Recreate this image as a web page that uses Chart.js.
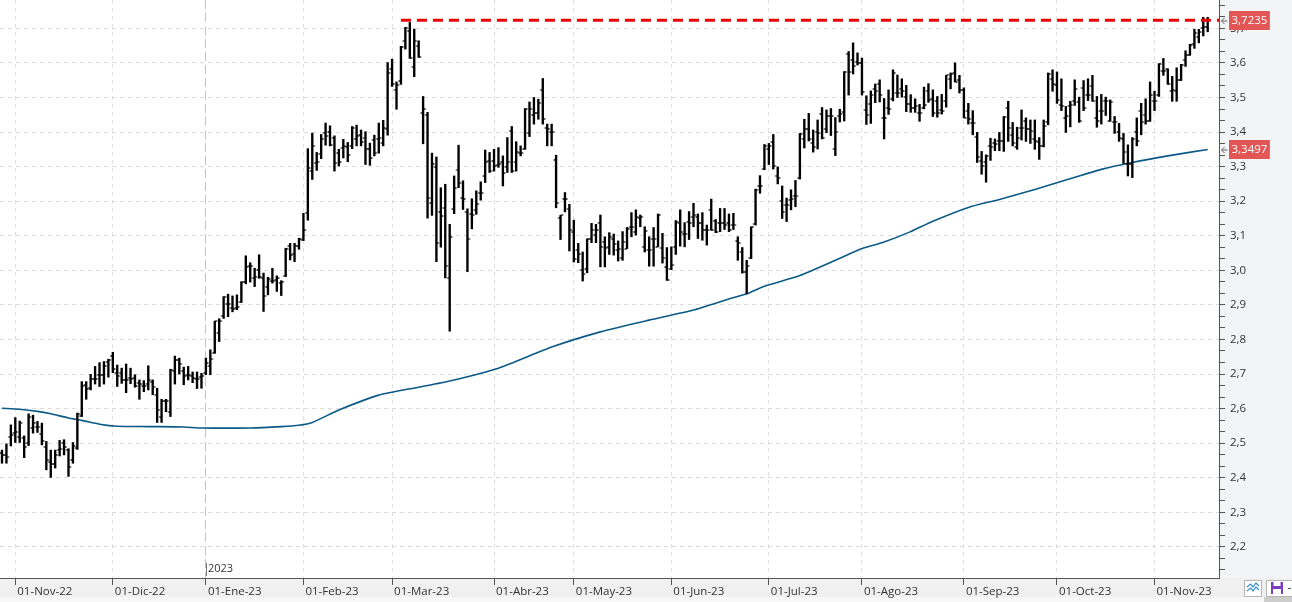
<!DOCTYPE html>
<html>
<head>
<meta charset="utf-8">
<script src="https://cdn.jsdelivr.net/npm/chart.js@4.4.0/dist/chart.umd.min.js"></script>
<style>
  html, body { margin: 0; padding: 0; background: #fff; }
  #wrap { width: 1292px; height: 602px; position: relative; }
</style>
</head>
<body>
<div id="wrap"><canvas id="chart"></canvas></div>
<script>
// Daily bars, index 0 = 27-Oct-22, index 3 = 01-Nov-22 ... index 272 = 17-Nov-23
const barOpen = [
  2.471, 2.466, 2.519, 2.529, 2.517, 2.514, 2.500, 2.545, 2.548, 2.527,
  2.490, 2.447, 2.440, 2.480, 2.500, 2.480, 2.452, 2.485, 2.579, 2.667,
  2.659, 2.686, 2.698, 2.698, 2.736, 2.751, 2.702, 2.702, 2.683, 2.688,
  2.688, 2.675, 2.666, 2.672, 2.678, 2.640, 2.575, 2.623, 2.591, 2.710,
  2.741, 2.710, 2.698, 2.693, 2.685, 2.690, 2.702, 2.722, 2.762, 2.818,
  2.868, 2.903, 2.892, 2.890, 2.907, 2.967, 3.013, 2.977, 3.001, 2.977,
  2.953, 2.970, 2.972, 2.963, 2.984, 3.069, 3.047, 3.071, 3.088, 3.167,
  3.286, 3.310, 3.336, 3.396, 3.399, 3.384, 3.339, 3.355, 3.358, 3.360,
  3.379, 3.391, 3.384, 3.350, 3.377, 3.381, 3.368, 3.410, 3.582, 3.521,
  3.548, 3.662, 3.691, 3.587, 3.650, 3.454, 3.450, 3.194, 3.300, 3.170,
  3.181, 2.978, 3.178, 3.290, 3.210, 3.169, 3.162, 3.174, 3.225, 3.273,
  3.316, 3.316, 3.305, 3.312, 3.300, 3.402, 3.314, 3.339, 3.352, 3.397,
  3.450, 3.455, 3.521, 3.413, 3.400, 3.320, 3.150, 3.207, 3.176, 3.111,
  3.060, 3.000, 3.003, 3.090, 3.101, 3.138, 3.082, 3.067, 3.092, 3.060,
  3.037, 3.063, 3.126, 3.112, 3.150, 3.068, 3.060, 3.092, 3.068, 3.066,
  3.010, 3.005, 3.068, 3.136, 3.105, 3.141, 3.155, 3.155, 3.138, 3.118,
  3.175, 3.143, 3.138, 3.138, 3.136, 3.131, 3.085, 3.053, 2.995, 3.037,
  3.134, 3.243, 3.293, 3.350, 3.370, 3.272, 3.200, 3.190, 3.204, 3.216,
  3.267, 3.380, 3.410, 3.369, 3.400, 3.451, 3.410, 3.445, 3.350, 3.445,
  3.458, 3.626, 3.607, 3.602, 3.600, 3.464, 3.480, 3.524, 3.539, 3.440,
  3.470, 3.495, 3.514, 3.525, 3.500, 3.480, 3.470, 3.454, 3.470, 3.518,
  3.496, 3.489, 3.464, 3.489, 3.554, 3.571, 3.551, 3.522, 3.460, 3.425,
  3.386, 3.316, 3.312, 3.360, 3.367, 3.375, 3.373, 3.470, 3.392, 3.357,
  3.412, 3.433, 3.409, 3.380, 3.370, 3.360, 3.428, 3.554, 3.535, 3.477,
  3.440, 3.474, 3.489, 3.486, 3.528, 3.506, 3.532, 3.440, 3.460, 3.489,
  3.431, 3.428, 3.399, 3.380, 3.307, 3.309, 3.399, 3.462, 3.450, 3.431,
  3.489, 3.506, 3.578, 3.581, 3.520, 3.520, 3.551, 3.608, 3.622, 3.654,
  3.674, 3.700, 3.705
];
const barHigh = [
  2.480, 2.498, 2.553, 2.574, 2.564, 2.521, 2.585, 2.581, 2.563, 2.558,
  2.505, 2.480, 2.480, 2.508, 2.510, 2.484, 2.502, 2.587, 2.678, 2.678,
  2.699, 2.722, 2.733, 2.736, 2.743, 2.763, 2.726, 2.717, 2.729, 2.717,
  2.698, 2.683, 2.681, 2.724, 2.683, 2.659, 2.627, 2.627, 2.714, 2.752,
  2.746, 2.720, 2.722, 2.706, 2.706, 2.702, 2.746, 2.770, 2.853, 2.860,
  2.924, 2.931, 2.926, 2.929, 2.967, 3.042, 3.022, 3.006, 3.045, 2.992,
  2.980, 3.006, 2.984, 2.970, 3.064, 3.078, 3.078, 3.093, 3.165, 3.352,
  3.397, 3.341, 3.393, 3.426, 3.418, 3.389, 3.350, 3.379, 3.370, 3.416,
  3.420, 3.406, 3.401, 3.368, 3.391, 3.426, 3.434, 3.601, 3.611, 3.545,
  3.648, 3.703, 3.717, 3.698, 3.664, 3.503, 3.457, 3.339, 3.328, 3.239,
  3.249, 3.133, 3.273, 3.362, 3.259, 3.178, 3.207, 3.230, 3.256, 3.348,
  3.341, 3.350, 3.355, 3.331, 3.384, 3.416, 3.372, 3.360, 3.468, 3.487,
  3.500, 3.495, 3.555, 3.423, 3.423, 3.333, 3.159, 3.225, 3.191, 3.145,
  3.078, 3.053, 3.091, 3.136, 3.133, 3.160, 3.097, 3.109, 3.105, 3.085,
  3.112, 3.124, 3.167, 3.175, 3.160, 3.126, 3.097, 3.124, 3.163, 3.107,
  3.066, 3.068, 3.144, 3.175, 3.138, 3.170, 3.194, 3.163, 3.167, 3.131,
  3.206, 3.147, 3.179, 3.179, 3.163, 3.165, 3.097, 3.066, 3.029, 3.126,
  3.235, 3.274, 3.364, 3.367, 3.393, 3.299, 3.244, 3.209, 3.233, 3.260,
  3.396, 3.437, 3.454, 3.406, 3.435, 3.471, 3.464, 3.468, 3.442, 3.466,
  3.575, 3.633, 3.658, 3.629, 3.614, 3.505, 3.519, 3.539, 3.551, 3.497,
  3.522, 3.580, 3.565, 3.554, 3.535, 3.508, 3.496, 3.480, 3.530, 3.540,
  3.522, 3.503, 3.509, 3.564, 3.571, 3.600, 3.564, 3.528, 3.483, 3.462,
  3.399, 3.344, 3.334, 3.382, 3.380, 3.399, 3.445, 3.489, 3.428, 3.414,
  3.464, 3.441, 3.435, 3.435, 3.384, 3.435, 3.571, 3.580, 3.574, 3.554,
  3.474, 3.489, 3.551, 3.501, 3.549, 3.554, 3.564, 3.503, 3.509, 3.501,
  3.493, 3.445, 3.425, 3.396, 3.363, 3.384, 3.441, 3.483, 3.496, 3.545,
  3.518, 3.598, 3.613, 3.583, 3.561, 3.586, 3.596, 3.635, 3.654, 3.697,
  3.697, 3.732, 3.732
];
const barLow = [
  2.442, 2.442, 2.492, 2.502, 2.502, 2.458, 2.493, 2.529, 2.531, 2.495,
  2.423, 2.401, 2.428, 2.463, 2.466, 2.404, 2.442, 2.482, 2.577, 2.627,
  2.654, 2.671, 2.664, 2.671, 2.691, 2.704, 2.664, 2.673, 2.646, 2.672,
  2.662, 2.627, 2.649, 2.654, 2.640, 2.560, 2.560, 2.591, 2.577, 2.671,
  2.700, 2.669, 2.683, 2.675, 2.658, 2.659, 2.698, 2.698, 2.760, 2.794,
  2.861, 2.866, 2.880, 2.886, 2.907, 2.961, 2.966, 2.953, 2.977, 2.881,
  2.929, 2.963, 2.939, 2.927, 2.982, 3.030, 3.025, 3.061, 3.086, 3.145,
  3.263, 3.289, 3.323, 3.362, 3.360, 3.287, 3.302, 3.325, 3.314, 3.352,
  3.360, 3.360, 3.306, 3.304, 3.331, 3.339, 3.360, 3.391, 3.532, 3.466,
  3.538, 3.640, 3.613, 3.560, 3.616, 3.366, 3.151, 3.159, 3.025, 3.067,
  2.978, 2.824, 3.164, 3.239, 3.176, 2.996, 3.120, 3.162, 3.203, 3.254,
  3.283, 3.287, 3.298, 3.244, 3.283, 3.283, 3.287, 3.331, 3.350, 3.387,
  3.423, 3.437, 3.423, 3.360, 3.360, 3.181, 3.089, 3.169, 3.056, 3.024,
  3.022, 2.969, 2.993, 3.080, 3.080, 3.010, 3.010, 3.046, 3.044, 3.027,
  3.029, 3.063, 3.097, 3.102, 3.126, 3.053, 3.012, 3.012, 3.068, 3.021,
  2.971, 3.002, 3.046, 3.070, 3.068, 3.089, 3.126, 3.092, 3.087, 3.073,
  3.116, 3.109, 3.112, 3.118, 3.112, 3.118, 3.029, 2.992, 2.932, 3.034,
  3.131, 3.223, 3.291, 3.306, 3.293, 3.250, 3.150, 3.141, 3.175, 3.184,
  3.264, 3.354, 3.374, 3.342, 3.351, 3.380, 3.398, 3.390, 3.332, 3.429,
  3.432, 3.507, 3.568, 3.594, 3.507, 3.422, 3.425, 3.485, 3.487, 3.380,
  3.451, 3.490, 3.500, 3.501, 3.459, 3.457, 3.457, 3.431, 3.467, 3.486,
  3.445, 3.443, 3.452, 3.472, 3.525, 3.545, 3.513, 3.441, 3.423, 3.392,
  3.312, 3.278, 3.255, 3.318, 3.346, 3.346, 3.344, 3.373, 3.360, 3.350,
  3.377, 3.373, 3.367, 3.350, 3.321, 3.357, 3.421, 3.518, 3.483, 3.462,
  3.399, 3.415, 3.477, 3.428, 3.462, 3.491, 3.489, 3.414, 3.423, 3.448,
  3.431, 3.396, 3.373, 3.309, 3.273, 3.268, 3.360, 3.392, 3.423, 3.431,
  3.462, 3.503, 3.564, 3.538, 3.489, 3.489, 3.549, 3.590, 3.622, 3.642,
  3.658, 3.678, 3.690
];
const barClose = [
  2.466, 2.461, 2.524, 2.531, 2.558, 2.488, 2.577, 2.558, 2.548, 2.507,
  2.452, 2.440, 2.466, 2.482, 2.488, 2.432, 2.492, 2.585, 2.664, 2.656,
  2.685, 2.686, 2.698, 2.722, 2.741, 2.714, 2.695, 2.683, 2.683, 2.685,
  2.664, 2.672, 2.666, 2.683, 2.662, 2.596, 2.623, 2.623, 2.712, 2.741,
  2.729, 2.695, 2.698, 2.688, 2.685, 2.693, 2.733, 2.743, 2.852, 2.852,
  2.922, 2.903, 2.887, 2.895, 2.965, 3.009, 3.013, 2.980, 2.980, 2.926,
  2.974, 2.969, 2.977, 2.967, 3.062, 3.043, 3.069, 3.090, 3.117, 3.297,
  3.360, 3.314, 3.379, 3.388, 3.362, 3.310, 3.312, 3.360, 3.333, 3.412,
  3.389, 3.370, 3.350, 3.326, 3.339, 3.384, 3.413, 3.572, 3.539, 3.536,
  3.645, 3.700, 3.613, 3.664, 3.616, 3.466, 3.210, 3.307, 3.080, 3.157,
  3.012, 3.097, 3.239, 3.252, 3.205, 3.091, 3.159, 3.191, 3.225, 3.312,
  3.287, 3.302, 3.307, 3.281, 3.312, 3.287, 3.341, 3.339, 3.466, 3.466,
  3.455, 3.484, 3.437, 3.410, 3.399, 3.196, 3.159, 3.207, 3.117, 3.034,
  3.048, 2.988, 3.090, 3.116, 3.116, 3.068, 3.066, 3.097, 3.075, 3.063,
  3.082, 3.119, 3.126, 3.155, 3.153, 3.115, 3.060, 3.090, 3.160, 3.037,
  2.973, 3.014, 3.141, 3.112, 3.105, 3.136, 3.160, 3.136, 3.118, 3.118,
  3.118, 3.112, 3.138, 3.131, 3.118, 3.131, 3.080, 2.995, 3.012, 3.124,
  3.233, 3.245, 3.361, 3.361, 3.303, 3.267, 3.170, 3.189, 3.206, 3.215,
  3.393, 3.410, 3.380, 3.357, 3.398, 3.383, 3.445, 3.445, 3.400, 3.451,
  3.573, 3.573, 3.592, 3.599, 3.516, 3.448, 3.507, 3.519, 3.507, 3.441,
  3.468, 3.571, 3.514, 3.518, 3.480, 3.470, 3.474, 3.454, 3.477, 3.493,
  3.454, 3.454, 3.460, 3.564, 3.569, 3.545, 3.522, 3.441, 3.438, 3.425,
  3.328, 3.302, 3.331, 3.357, 3.365, 3.375, 3.443, 3.413, 3.367, 3.382,
  3.412, 3.409, 3.404, 3.375, 3.360, 3.418, 3.569, 3.538, 3.493, 3.474,
  3.445, 3.477, 3.525, 3.433, 3.470, 3.506, 3.491, 3.433, 3.460, 3.489,
  3.486, 3.428, 3.382, 3.341, 3.307, 3.380, 3.375, 3.428, 3.433, 3.506,
  3.489, 3.596, 3.578, 3.540, 3.522, 3.551, 3.593, 3.622, 3.651, 3.687,
  3.690, 3.703, 3.7235
];

// moving average at these bar indices
const maIndex = [0, 4, 8, 11, 15, 18, 22, 26, 33, 41, 45, 56, 63, 67, 70, 76, 85, 94, 101, 112,
  124, 135, 146, 156, 164, 168, 172, 180, 188, 194, 199, 205, 210, 218, 225, 233, 240, 248, 255, 263, 272];
const maValue = [2.601, 2.598, 2.592, 2.585, 2.573, 2.566, 2.555, 2.549, 2.548, 2.547, 2.544, 2.544, 2.548, 2.552, 2.560, 2.596, 2.639, 2.662, 2.680, 2.717,
  2.778, 2.822, 2.856, 2.885, 2.917, 2.932, 2.954, 2.985, 3.029, 3.063, 3.082, 3.112, 3.142, 3.182, 3.205, 3.234, 3.261, 3.292, 3.312, 3.331, 3.3497];

// x axis month ticks (bar index of first session of each month)
const monthIndex = [3, 25, 46, 68, 88, 111, 129, 151, 173, 194, 217, 238, 260];
const monthLabels = ['01-Nov-22', '01-Dic-22', '01-Ene-23', '01-Feb-23', '01-Mar-23', '01-Abr-23', '01-May-23',
  '01-Jun-23', '01-Jul-23', '01-Ago-23', '01-Sep-23', '01-Oct-23', '01-Nov-23'];
const yearIndex = 46;
const yearLabel = '2023';

// resistance line from the March high
const resistStart = 90;
const resistLevel = 3.7235;

const xMin = -0.45, xMax = 274.55;
const yMin = 2.11, yMax = 3.782;

const fontFamily = '"Open Sans", "Noto Sans", sans-serif';

function tickImage(side) {
  const c = document.createElement('canvas');
  c.width = 8; c.height = 2;
  const g = c.getContext('2d');
  g.fillStyle = 'rgba(0,0,0,0.9)';
  if (side === 'left') g.fillRect(1.5, 0.25, 2.2, 1.5);
  else g.fillRect(4.3, 0.25, 2.2, 1.5);
  return c;
}

function isMajor(v) {
  const k = Math.round(v * 30);
  return Math.abs(v * 30 - k) < 1e-6 && k % 3 === 0;
}

function fmt(v, d) {
  return v.toFixed(d).replace('.', ',');
}

function noPadding(s) {
  s.paddingLeft = 0;
  s.paddingRight = 0;
  s.paddingTop = 0;
  s.paddingBottom = 0;
}

const backgroundPlugin = {
  id: 'background',
  beforeDraw(chart) {
    const ctx = chart.ctx;
    const w = chart.width, h = chart.height;
    const a = chart.chartArea;
    ctx.save();
    ctx.fillStyle = '#ffffff';
    ctx.fillRect(0, 0, w, h);
    ctx.fillStyle = '#f3f4f6';
    ctx.fillRect(a.right, 0, w - a.right, a.bottom);
    ctx.fillStyle = '#f0f0f0';
    ctx.fillRect(0, a.bottom, w, h - a.bottom);
    ctx.fillStyle = '#f8f8f8';
    ctx.fillRect(0, h - 5, w, 5);
    ctx.fillStyle = '#cdcdcd';
    ctx.fillRect(1264, h - 5, w - 1264, 5);
    ctx.restore();
  }
};

function priceTag(ctx, y, text, x0) {
  ctx.font = '11.5px ' + fontFamily;
  const tw = ctx.measureText(text).width;
  ctx.fillStyle = '#e25656';
  ctx.fillRect(x0 + 10, y - 9.5, tw + 5, 19);
  ctx.fillStyle = '#ffffff';
  ctx.textAlign = 'left';
  ctx.textBaseline = 'middle';
  ctx.fillText(text, x0 + 12.5, y + 0.5);
  // small arrow pointing at the axis
  ctx.strokeStyle = '#666';
  ctx.lineWidth = 1;
  ctx.beginPath();
  ctx.moveTo(x0 + 2.5, y + 0.5); ctx.lineTo(x0 + 8.5, y + 0.5);
  ctx.moveTo(x0 + 5.5, y - 2.5); ctx.lineTo(x0 + 2.5, y + 0.5); ctx.lineTo(x0 + 5.5, y + 3.5);
  ctx.stroke();
}

const overlayPlugin = {
  id: 'overlay',
  afterDraw(chart) {
    const ctx = chart.ctx;
    const a = chart.chartArea;
    const xs = chart.scales.x, ys = chart.scales.y;
    ctx.save();

    // year marker
    const yx = Math.round(xs.getPixelForValue(yearIndex)) + 0.5;
    ctx.strokeStyle = '#777';
    ctx.lineWidth = 1;
    ctx.beginPath();
    ctx.moveTo(yx, a.bottom - 15); ctx.lineTo(yx, a.bottom - 2);
    ctx.stroke();
    ctx.fillStyle = '#333';
    ctx.font = '11px ' + fontFamily;
    ctx.textAlign = 'left';
    ctx.textBaseline = 'middle';
    ctx.fillText(yearLabel, yx + 1.5, a.bottom - 9);

    // last values on the right axis
    const last = barClose.length - 1;
    priceTag(ctx, Math.round(ys.getPixelForValue(barClose[last])) + 0.5, fmt(barClose[last], 4), a.right);
    priceTag(ctx, Math.round(ys.getPixelForValue(maValue[maValue.length - 1])) + 0.5, fmt(maValue[maValue.length - 1], 4), a.right);

    // small toolbar buttons bottom right
    ctx.fillStyle = '#ffffff';
    ctx.strokeStyle = '#b5b5b5';
    ctx.fillRect(1244.5, 580.5, 17, 16); ctx.strokeRect(1244.5, 580.5, 17, 16);
    ctx.fillRect(1266.5, 580.5, 30, 16); ctx.strokeRect(1266.5, 580.5, 30, 16);
    ctx.strokeStyle = '#3a8fd0';
    ctx.lineWidth = 1.2;
    for (const dy of [0, 4]) {
      ctx.beginPath();
      ctx.moveTo(1247, 590 + dy - 3); ctx.lineTo(1250.5, 585 + dy - 1); ctx.lineTo(1253, 588 + dy - 1);
      ctx.lineTo(1256, 584 + dy - 1); ctx.lineTo(1259, 588 + dy - 2);
      ctx.stroke();
    }
    ctx.fillStyle = '#7a3fc0';
    ctx.fillRect(1271, 582, 12, 12);
    ctx.fillStyle = '#ffffff';
    ctx.fillRect(1273.5, 582, 7, 4);
    ctx.fillRect(1273, 589, 8, 5);
    ctx.fillStyle = '#555';
    ctx.fillRect(1288, 588, 3, 1);
    ctx.restore();
  }
};

const ctx = document.getElementById('chart').getContext('2d');

new Chart(ctx, {
  type: 'bar',
  data: {
    datasets: [
      {
        type: 'line',
        label: 'Resistencia',
        data: [{ x: resistStart, y: resistLevel }, { x: xMax, y: resistLevel }],
        borderColor: '#ee0000',
        borderWidth: 3,
        borderDash: [10, 6],
        pointRadius: 0,
        order: -1
      },
      {
        type: 'bar',
        label: 'Rango',
        data: barHigh.map((h, i) => ({ x: i, y: [barLow[i], h] })),
        backgroundColor: '#000000',
        borderWidth: 0,
        barThickness: 1.7,
        grouped: false,
        order: 0
      },
      {
        type: 'scatter',
        label: 'Apertura',
        data: barOpen.map((v, i) => ({ x: i, y: v })),
        pointStyle: tickImage('left'),
        order: 0
      },
      {
        type: 'scatter',
        label: 'Cierre',
        data: barClose.map((v, i) => ({ x: i, y: v })),
        pointStyle: tickImage('right'),
        order: 0
      },
      {
        type: 'line',
        label: 'Media',
        data: maIndex.map((x, i) => ({ x: x, y: maValue[i] })),
        borderColor: '#0b5a86',
        borderWidth: 1.6,
        pointRadius: 0,
        tension: 0.2,
        order: 1
      }
    ]
  },
  options: {
    responsive: true,
    maintainAspectRatio: false,
    animation: false,
    events: [],
    layout: { padding: 0, autoPadding: false },
    plugins: {
      legend: { display: false },
      tooltip: { enabled: false }
    },
    scales: {
      x: {
        type: 'linear',
        min: xMin,
        max: xMax,
        offset: false,
        afterBuildTicks: s => { s.ticks = monthIndex.map(v => ({ value: v })); },
        afterFit: s => { s.height = 24; noPadding(s); },
        grid: {
          offset: false,
          color: c => (c.tick && c.tick.value === yearIndex) ? '#c4c4c4' : '#e0e0e0',
          lineWidth: 1,
          tickColor: '#555',
          tickLength: 7,
          tickWidth: 1
        },
        border: {
          color: '#555',
          width: 1,
          dash: c => !c.tick ? [] : (c.tick.value === yearIndex ? [9, 4] : [4, 4])
        },
        ticks: {
          autoSkip: false,
          maxRotation: 0,
          align: 'start',
          labelOffset: 2,
          padding: 0,
          color: '#333',
          font: { family: fontFamily, size: 11.5 },
          callback: v => monthLabels[monthIndex.indexOf(v)]
        }
      },
      y: {
        position: 'right',
        min: yMin,
        max: yMax,
        afterBuildTicks: s => {
          const t = [];
          for (let k = 64; k <= 113; k++) t.push({ value: k / 30 });
          s.ticks = t;
        },
        afterFit: s => { s.width = 73; noPadding(s); },
        grid: {
          color: c => (c.tick && isMajor(c.tick.value)) ? '#dcdcdc' : 'rgba(0,0,0,0)',
          tickColor: '#555',
          tickLength: 6,
          tickWidth: 1
        },
        border: {
          color: '#555',
          width: 1,
          dash: c => c.tick ? [4, 4] : []
        },
        ticks: {
          autoSkip: false,
          padding: 5,
          color: '#333',
          font: { family: fontFamily, size: 11.5 },
          callback: v => isMajor(v) ? fmt(v, 1) : ''
        }
      }
    }
  },
  plugins: [backgroundPlugin, overlayPlugin]
});
</script>
</body>
</html>
